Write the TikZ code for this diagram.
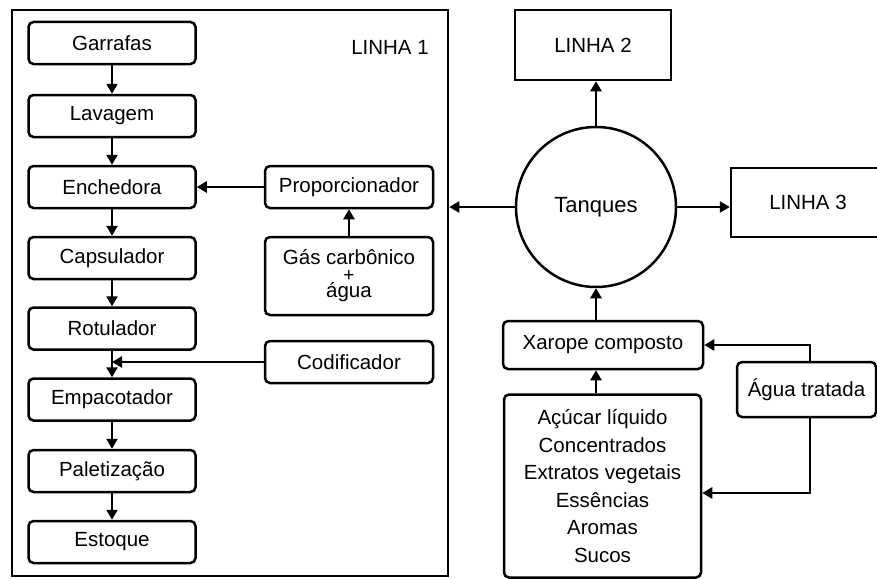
\documentclass[tikz,border=0pt]{standalone}
\usepackage{fontspec}
\setmainfont{Liberation Sans}
\usetikzlibrary{arrows.meta}
\begin{document}
\begin{tikzpicture}[x=1pt,y=-1pt,
  every node/.style={font=\fontsize{20.5}{24}\selectfont, inner sep=0pt},
  rbox/.style={draw, line width=2.5pt, rounded corners=5pt, align=center},
  sbox/.style={draw, line width=2.5pt, align=center},
  stepbox/.style={rbox, minimum width=167pt, minimum height=42pt},
  arr/.style={line width=2.5pt, -{Triangle[length=10pt,width=11pt]}}]
\useasboundingbox (0,0) rectangle (877,578);
\begin{scope}
\clip (0,0) rectangle (877,578);
% big frame LINHA 1
\node[sbox, minimum width=436pt, minimum height=566pt] (l1) at (230,293) {};
\node (l1t) at (390,47) {LINHA 1};
% left column
\node[stepbox] (g) at (112,43) {Garrafas};
\node[stepbox] (la) at (112,116) {Lavagem};
\node[stepbox] (en) at (112,187) {Enchedora};
\node[stepbox] (ca) at (112,258) {Capsulador};
\node[stepbox] (ro) at (112,328.5) {Rotulador};
\node[stepbox] (em) at (112,399.5) {Empacotador};
\node[stepbox] (pa) at (112,471) {Paletização};
\node[stepbox] (es) at (112,542) {Estoque};
% right inner column
\node[rbox, minimum width=168pt, minimum height=78pt, font=\fontsize{20.5}{16.5}\selectfont] (gc) at (349,276) {Gás carbônico\\{\fontsize{19}{16.5}\selectfont +}\\água};
\node[rbox, minimum width=168pt, minimum height=42pt] (pr) at (349,187) {Proporcionador};
\node[rbox, minimum width=168pt, minimum height=42pt] (co) at (349,362) {Codificador};
\coordinate (cj) at (112,362);
% right side
\node[sbox, minimum width=156pt, minimum height=70pt] (l2) at (593,45) {LINHA 2};
\node[draw, line width=2.5pt, circle, minimum size=160pt, font=\fontsize{22}{26}\selectfont] (tq) at (596,207) {Tanques};
\node[sbox, minimum width=154pt, minimum height=69pt] (l3) at (808,202.5) {LINHA 3};
\node[rbox, minimum width=200pt, minimum height=48pt] (xa) at (603,345) {Xarope composto};
\node[rbox, minimum width=197pt, minimum height=183pt, font=\fontsize{20.5}{27.5}\selectfont] (in) at (602.5,486) {Açúcar líquido\\Concentrados\\Extratos vegetais\\Essências\\Aromas\\Sucos};
\node[rbox, minimum width=139pt, minimum height=55pt] (ag) at (806.5,389.5) {Água tratada};
% connectors left column
\draw[arr] (g) -- (la);
\draw[arr] (la) -- (en);
\draw[arr] (en) -- (ca);
\draw[arr] (ca) -- (ro);
\draw[arr] (ro) -- (em);
\draw[arr] (em) -- (pa);
\draw[arr] (pa) -- (es);
\draw[arr] (pr) -- (en);
\draw[arr] (gc) -- (pr);
\draw[arr] (co) -- (cj);
% connectors right side
\draw[arr] (tq.west) -- (tq.west -| l1.east);
\draw[arr] (tq.north) -- (tq.north |- l2.south);
\draw[arr] (tq.east) -- (tq.east -| l3.west);
\draw[arr] (tq.south |- xa.north) -- (tq.south);
\draw[arr] (tq.south |- in.north) -- (tq.south |- xa.south);
\coordinate (agt) at (810,345);
\coordinate (agb) at (810,493);
\draw[arr] (ag.north -| agt) -- (agt) -- (xa.east);
\draw[arr] (ag.south -| agb) -- (agb) -- (agb -| in.east);
\end{scope}
\end{tikzpicture}
\end{document}
